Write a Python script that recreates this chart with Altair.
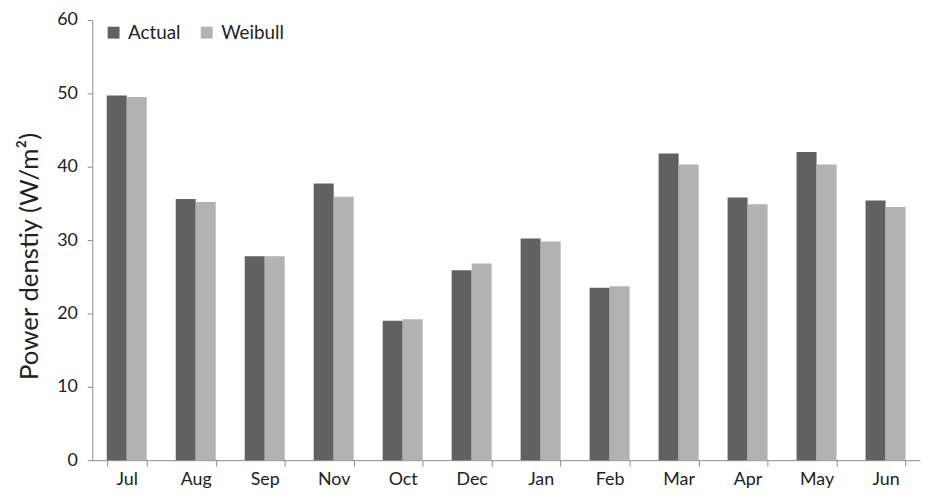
import altair as alt
import pandas as pd

months = ["Jul", "Aug", "Sep", "Nov", "Oct", "Dec", "Jan", "Feb", "Mar", "Apr", "May", "Jun"]
actual = [49.7, 35.6, 27.8, 37.7, 19.0, 25.9, 30.2, 23.5, 41.8, 35.8, 42.0, 35.4]
weibull = [49.5, 35.2, 27.8, 35.9, 19.2, 26.8, 29.8, 23.7, 40.3, 34.9, 40.3, 34.5]
series = ["Actual", "Weibull"]
colors = ["#616161", "#b2b2b2"]

rows = []
for m, a, w in zip(months, actual, weibull):
    rows.append({"month": m, "series": "Actual", "value": a})
    rows.append({"month": m, "series": "Weibull", "value": w})
df = pd.DataFrame(rows)

font = "Lato"

chart = alt.Chart(df).mark_bar().encode(
    x=alt.X("month:N", sort=months, title=None,
            scale=alt.Scale(paddingInner=0.42, paddingOuter=0.21),
            axis=alt.Axis(labelAngle=0, tickBand="extent", tickSize=6,
                          labelPadding=5, labelFontSize=18, labelColor="#222",
                          domainColor="#8a8a8a", tickColor="#8a8a8a", labelFont=font)),
    xOffset=alt.XOffset("series:N", sort=series),
    y=alt.Y("value:Q", title="Power denstiy (W/m²)",
            scale=alt.Scale(domain=[0, 60], nice=False),
            axis=alt.Axis(values=[0, 10, 20, 30, 40, 50, 60], grid=False, tickSize=5,
                          labelFontSize=18, labelColor="#222", labelPadding=10,
                          titleFontSize=26, titleFontWeight="normal", titleColor="#222",
                          titlePadding=14, titleFont=font, labelFont=font, titleY=238,
                          domainColor="#8a8a8a", tickColor="#8a8a8a")),
    color=alt.Color("series:N", sort=series,
                    scale=alt.Scale(domain=series, range=colors),
                    legend=alt.Legend(title=None, orient="none", legendX=12, legendY=3,
                                      direction="horizontal", symbolType="square",
                                      symbolSize=144, symbolStrokeWidth=0, labelOffset=5,
                                      labelFontSize=19, labelFont=font, labelColor="#222",
                                      columnPadding=16)),
).properties(
    width=835, height=444,
    autosize=alt.AutoSizeParams(type="none"),
    padding={"left": 85, "top": 10, "right": 4, "bottom": 31},
).configure_view(stroke=None)

chart.save("out.html", embed_options={"renderer": "svg", "actions": False})
